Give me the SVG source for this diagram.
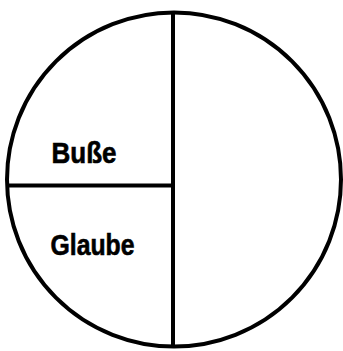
<svg xmlns="http://www.w3.org/2000/svg" width="343" height="351" viewBox="0 0 343 351">
<style>
.ln{stroke:#000;stroke-width:4;fill:none}
.lbl{font-family:"Liberation Sans",Arial,sans-serif;font-weight:bold;font-size:29px;fill:#000;stroke:#000;stroke-width:0.6}
</style>
<rect width="343" height="351" fill="#fff"/>
<g id="circle"><circle class="ln" cx="174" cy="179.5" r="167"/></g>
<g id="connectors">
<line class="ln" x1="173" y1="12" x2="173" y2="347"/>
<line class="ln" x1="8" y1="185.5" x2="173" y2="185.5"/>
</g>
<g id="busse"><text class="lbl" x="51.5" y="163" textLength="65" lengthAdjust="spacingAndGlyphs">Buße</text></g>
<g id="glaube"><text class="lbl" x="50.5" y="255" textLength="84" lengthAdjust="spacingAndGlyphs">Glaube</text></g>
</svg>
